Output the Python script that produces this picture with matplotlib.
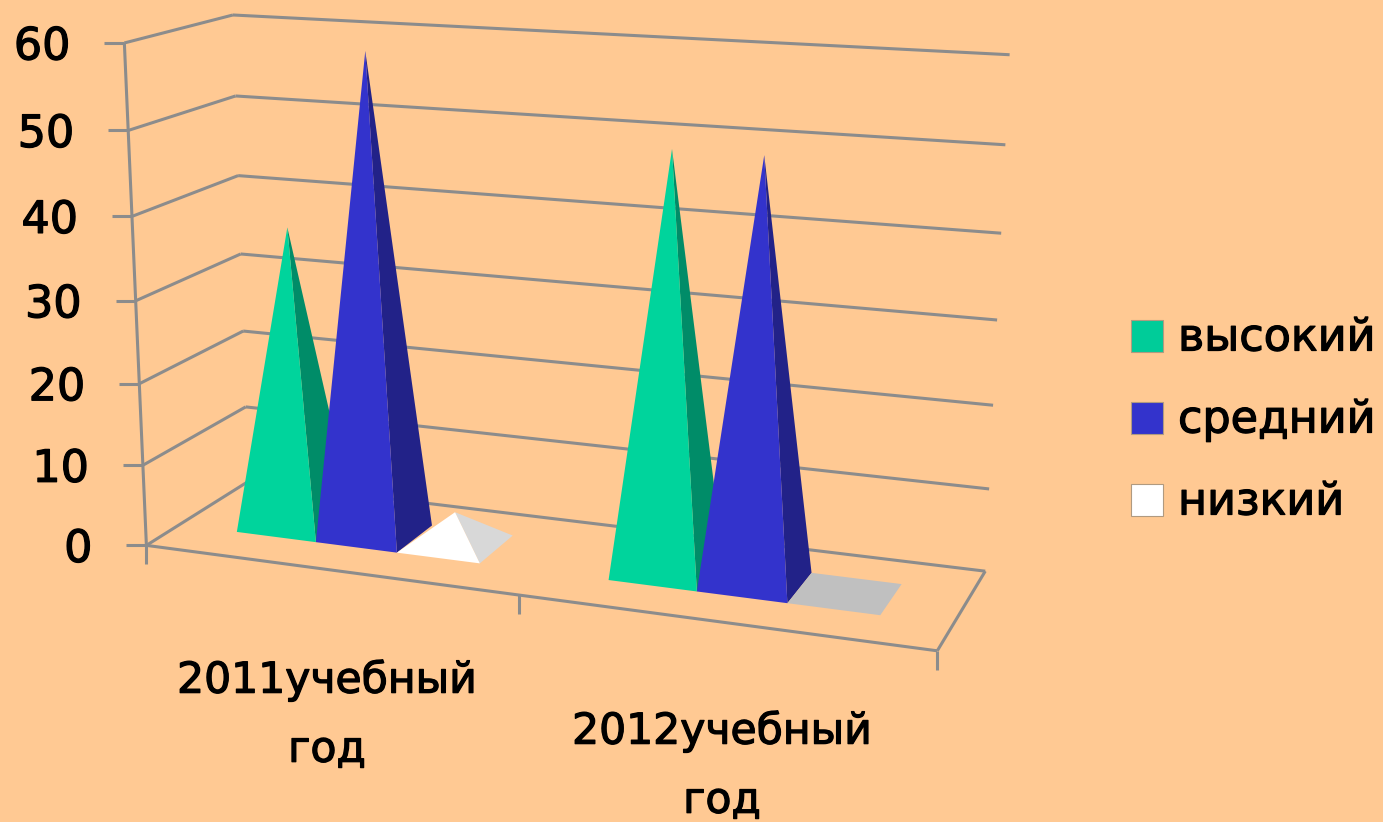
import numpy as np
import matplotlib
matplotlib.use("Agg")
import matplotlib.pyplot as plt
import matplotlib.patheffects as pe
from matplotlib.patches import Polygon, Rectangle

categories = ["2011учебный\nгод", "2012учебный\nгод"]
series_names = ["высокий", "средний", "низкий"]
high = [37, 49.5]
mid = [58.5, 49.5]
low = [4, 0]
y_ticks = [0, 10, 20, 30, 40, 50, 60]

BG = "#FFC993"
GRID = "#8C8C8C"
FRONT = ["#00D49C", "#3333CC", "#FFFFFF"]
SIDE = ["#008C68", "#222288", "#D8D8D8"]
FLAT = "#C0C0C0"

# Camera fit: (u, v, value) -> pixel, from the chart box as seen in the picture
front_x = [147, 143, 139, 136, 132, 128, 124]
front_y = [546, 465, 383, 300, 215, 131, 44]
backl_x = [248, 246, 243, 240, 238, 236, 233]
backl_y = [482, 407, 332, 254, 175, 96, 15]
backr_x = [985, 989, 993, 998, 1001, 1005, 1010]
backr_y = [570, 489, 405, 320, 233, 145, 55]
rows, rhs = [], []
def add(u, v, h, px, py):
    w = [u, v, h / 60, 1]
    rows.append(w + [0, 0, 0, 0] + [-px * c for c in w[:3]])
    rhs.append(px)
    rows.append([0, 0, 0, 0] + w + [-py * c for c in w[:3]])
    rhs.append(py)
for i, h in enumerate(y_ticks):
    add(0, 0, h, front_x[i], front_y[i])
    add(0, 1, h, backl_x[i], backl_y[i])
    add(1, 1, h, backr_x[i], backr_y[i])
add(1, 0, 0, 937, 652)
sol = np.linalg.lstsq(np.array(rows, float), np.array(rhs, float), rcond=None)[0]
P = np.append(sol, 1).reshape(3, 4)

def pr(u, v, h):
    q = P @ np.array([u, v, h / 60, 1.0])
    return q[0] / q[2], q[1] / q[2]

fig = plt.figure(figsize=(13.83, 8.22), dpi=100, facecolor=BG)
ax = fig.add_axes([0, 0, 1, 1])
ax.set_xlim(0, 1383)
ax.set_ylim(822, 0)
ax.axis("off")
THICK = [pe.withStroke(linewidth=0.9, foreground="black")]

def line(a, b, z=1):
    ax.plot([a[0], b[0]], [a[1], b[1]], color=GRID, lw=2.2, zorder=z, solid_capstyle="butt")

# walls and floor
for h in y_ticks:
    line(pr(0, 0, h), pr(0, 1, h))
    line(pr(0, 1, h), pr(1, 1, h))
    a = pr(0, 0, h)
    line((a[0] - 20, a[1]), a)
    ax.text(a[0] - 54, a[1] + 4, str(h), ha="right", va="center", fontsize=32,
            color="black", path_effects=THICK)
line(pr(0, 0, 0), pr(0, 0, 60))
line(pr(0, 0, 0), pr(1, 0, 0))
line(pr(1, 0, 0), pr(1, 1, 0))
for u in [0, 0.5, 1]:
    a = pr(u, 0, 0)
    line(a, (a[0], a[1] + 19))

# pyramids
V0, V1 = 0.31, 0.71
W = 0.111
START = 0.082
z = 3
for c in range(len(categories)):
    vals = [high[c], mid[c], low[c]]
    for s, val in enumerate(vals):
        u0 = c * 0.5 + START + s * W
        u1 = u0 + W
        fl, fr = pr(u0, V0, 0), pr(u1, V0, 0)
        br, bl = pr(u1, V1, 0), pr(u0, V1, 0)
        apex = pr((u0 + u1) / 2, (V0 + V1) / 2, val)
        if val == 0:
            ax.add_patch(Polygon([fl, fr, br, bl], fc=FLAT, ec="none", zorder=z))
        else:
            ax.add_patch(Polygon([fr, br, apex], fc=SIDE[s], ec="none", zorder=z))
            ax.add_patch(Polygon([fl, fr, apex], fc=FRONT[s], ec="none", zorder=z + 0.5))
        z += 1

# category labels
label_pos = [(327, 715), (722, 766)]
for (x, y), name in zip(label_pos, categories):
    ax.text(x, y, name, ha="center", va="center", fontsize=30.6, color="black",
            linespacing=1.82, path_effects=THICK)

# legend
legend_y = [336, 418, 500]
for i, name in enumerate(series_names):
    ax.add_patch(Rectangle((1131, legend_y[i] - 16), 32, 32, fc=FRONT[i] if i != 0 else "#00CC99",
                           ec="#B09A80", lw=0.8, zorder=20))
    ax.text(1178, legend_y[i] + 2, name, ha="left", va="center", fontsize=32,
            color="black", path_effects=THICK)

fig.savefig("out.png", dpi=100, facecolor=BG)
